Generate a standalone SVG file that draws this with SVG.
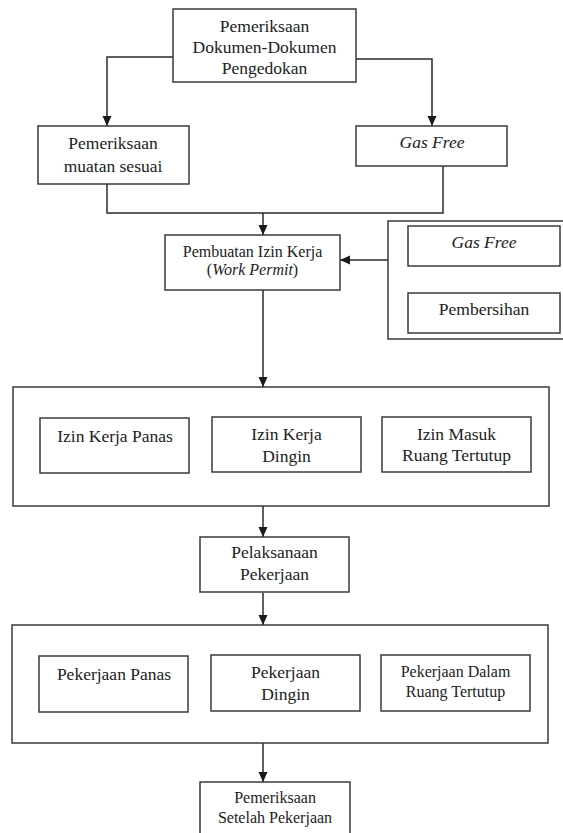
<svg xmlns="http://www.w3.org/2000/svg" width="563" height="833" viewBox="0 0 563 833">
<style>
.box{fill:#fff;stroke:#3a3a3a;stroke-width:1.5}
.ln{fill:none;stroke:#2a2a2a;stroke-width:1.5}
text{font-family:'Liberation Serif','Times New Roman',serif;font-size:17.5px;fill:#222;text-anchor:middle}
.sm{font-size:16px}
.it{font-style:italic}
</style>
<defs>
<marker id="arr" markerUnits="userSpaceOnUse" markerWidth="10" markerHeight="10" refX="10" refY="4.5" orient="auto">
<path d="M0,0 L10,4.5 L0,9 z" fill="#1a1a1a"/>
</marker>
</defs>
<rect width="563" height="833" fill="#fff"/>
<g id="connectors">
<path class="ln" d="M173,57 H107 V126" marker-end="url(#arr)"/>
<path class="ln" d="M356,59 H432 V126" marker-end="url(#arr)"/>
<path class="ln" d="M107,184 V213 H443 V166"/>
<path class="ln" d="M263,213 V235" marker-end="url(#arr)"/>
<path class="ln" d="M388,260 H340" marker-end="url(#arr)"/>
<path class="ln" d="M263,290 V387" marker-end="url(#arr)"/>
<path class="ln" d="M263,506 V537" marker-end="url(#arr)"/>
<path class="ln" d="M263,593 V625" marker-end="url(#arr)"/>
<path class="ln" d="M263,743 V782" marker-end="url(#arr)"/>
</g>
<g id="n-dokumen">
<rect class="box" x="173" y="9" width="183" height="73"/>
<text x="264.5" y="32">Pemeriksaan</text>
<text x="264.5" y="53">Dokumen-Dokumen</text>
<text x="264.5" y="74">Pengedokan</text>
</g>
<g id="n-muatan">
<rect class="box" x="38" y="126" width="151" height="58"/>
<text x="113" y="149">Pemeriksaan</text>
<text x="113" y="172">muatan sesuai</text>
</g>
<g id="n-gasfree1">
<rect class="box" x="356" y="126" width="151" height="40"/>
<text class="it" x="432" y="148">Gas Free</text>
</g>
<g id="n-pembuatan">
<rect class="box" x="165" y="235" width="175" height="55"/>
<text class="sm" x="252.5" y="257">Pembuatan Izin Kerja</text>
<text class="sm" x="252.5" y="275">(<tspan class="it">Work Permit</tspan>)</text>
</g>
<g id="n-panel">
<path class="box" d="M570,221 H388 V339 H570"/>
<g id="n-gasfree2">
<rect class="box" x="408" y="226" width="152" height="40"/>
<text class="it" x="484" y="248">Gas Free</text>
</g>
<g id="n-pembersihan">
<rect class="box" x="408" y="293" width="152" height="40"/>
<text x="484" y="315">Pembersihan</text>
</g>
</g>
<g id="n-izin">
<rect class="box" x="13" y="387" width="536" height="119"/>
<g id="n-izin-panas">
<rect class="box" x="40" y="418" width="149" height="55"/>
<text x="115" y="442">Izin Kerja Panas</text>
</g>
<g id="n-izin-dingin">
<rect class="box" x="212" y="417" width="149" height="55"/>
<text x="286.5" y="440">Izin Kerja</text>
<text x="286.5" y="462">Dingin</text>
</g>
<g id="n-izin-ruang">
<rect class="box" x="382" y="417" width="149" height="55"/>
<text x="456.5" y="440">Izin Masuk</text>
<text x="456.5" y="461">Ruang Tertutup</text>
</g>
</g>
<g id="n-pelaksanaan">
<rect class="box" x="200" y="537" width="149" height="55"/>
<text x="274.5" y="558">Pelaksanaan</text>
<text x="274.5" y="580">Pekerjaan</text>
</g>
<g id="n-pekerjaan">
<rect class="box" x="12" y="625" width="536" height="118"/>
<g id="n-pek-panas">
<rect class="box" x="39" y="656" width="149" height="56"/>
<text x="114" y="680">Pekerjaan Panas</text>
</g>
<g id="n-pek-dingin">
<rect class="box" x="211" y="655" width="149" height="56"/>
<text x="285.5" y="678">Pekerjaan</text>
<text x="285.5" y="700">Dingin</text>
</g>
<g id="n-pek-ruang">
<rect class="box" x="381" y="655" width="149" height="56"/>
<text class="sm" x="455.5" y="677">Pekerjaan Dalam</text>
<text class="sm" x="455.5" y="697">Ruang Tertutup</text>
</g>
</g>
<g id="n-setelah">
<rect class="box" x="200" y="782" width="150" height="60"/>
<text class="sm" x="275" y="803">Pemeriksaan</text>
<text class="sm" x="275" y="823">Setelah Pekerjaan</text>
</g>
</svg>
